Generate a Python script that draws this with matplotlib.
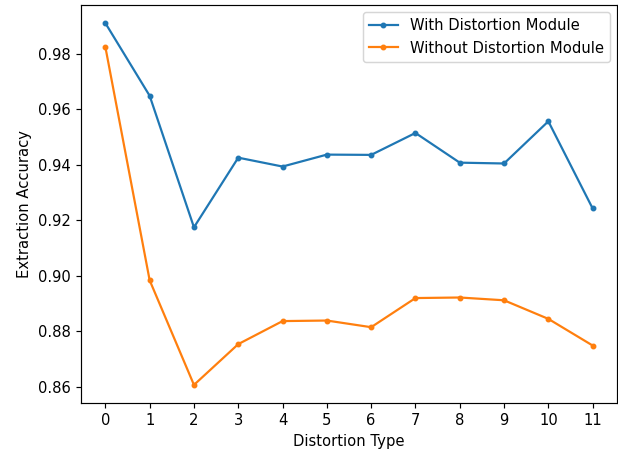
import matplotlib
matplotlib.use('Agg')
import matplotlib.pyplot as plt

distortion_types = list(range(12))
with_module = [0.9911, 0.9649, 0.9175, 0.9426, 0.9394, 0.9437, 0.9436, 0.9515,
               0.9408, 0.9405, 0.9557, 0.9243]
without_module = [0.9825, 0.8984, 0.8607, 0.8754, 0.8837, 0.8839, 0.8815, 0.8920,
                  0.8922, 0.8912, 0.8845, 0.8749]

W, H = 618, 451
DPI = 106
fig = plt.figure(figsize=(W / DPI, H / DPI), dpi=DPI)
ax = fig.add_axes([81 / W, 1 - 403 / H, (617 - 81) / W, (403 - 5) / H])
ax.plot(distortion_types, with_module, marker='.', label='With Distortion Module')
ax.plot(distortion_types, without_module, marker='.', label='Without Distortion Module')
ax.set_xticks(distortion_types)
ax.set_xlabel('Distortion Type')
ax.set_ylabel('Extraction Accuracy')
ax.legend(loc='upper right')

plt.savefig('out.png')
